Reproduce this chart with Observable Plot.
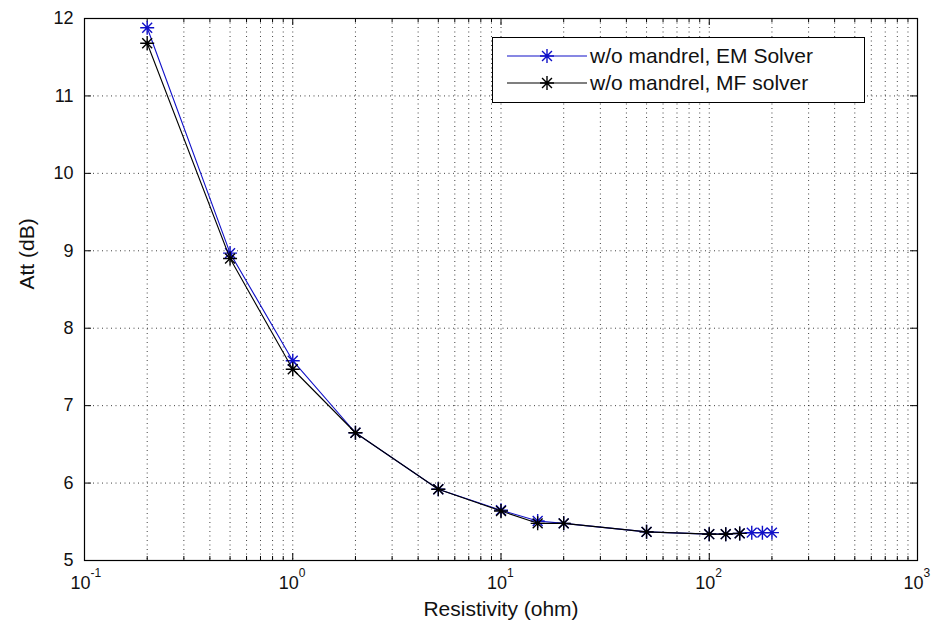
<!DOCTYPE html>
<html>
<head>
<meta charset="utf-8">
<script src="https://cdn.jsdelivr.net/npm/d3@7"></script>
<script src="https://cdn.jsdelivr.net/npm/@observablehq/plot@0.6"></script>
<style>
  body { margin: 0; background: #fff; }
  #wrap { position: relative; width: 938px; height: 634px; font-family: "Liberation Sans", Arial, sans-serif; }
  #legend { position: absolute; left: 492px; top: 37px; width: 373px; height: 66px; border: 1px solid #000; background: #fff; box-sizing: border-box; }
  .row { position: absolute; left: 0; height: 26px; display: flex; align-items: center; font-size: 21px; color: #111; white-space: nowrap; }
  .row svg { margin-left: 14px; margin-right: 3px; }
</style>
</head>
<body>
<div id="wrap"></div>
<script>
// ---- data ----
const emX = [0.2, 0.5, 1, 2, 5, 10, 15, 20, 50, 100, 120, 140, 160, 180, 200];
const emY = [11.88, 8.97, 7.58, 6.65, 5.92, 5.65, 5.51, 5.48, 5.37, 5.34, 5.34, 5.35, 5.36, 5.36, 5.36];
const mfX = [0.2, 0.5, 1, 2, 5, 10, 15, 20, 50, 100, 120, 140];
const mfY = [11.68, 8.90, 7.47, 6.65, 5.92, 5.64, 5.48, 5.48, 5.37, 5.34, 5.34, 5.35];
const seriesNames = ["w/o mandrel, EM Solver", "w/o mandrel, MF solver"];
const seriesColors = ["#1010c8", "#000000"];
const xMajor = [0.1, 1, 10, 100, 1000];
const xExp = ["-1", "0", "1", "2", "3"];
const yTicks = [5, 6, 7, 8, 9, 10, 11, 12];
const xLabel = "Resistivity (ohm)";
const yLabel = "Att (dB)";

const xMinor = [];
for (let e = -1; e < 3; e++) for (let m = 2; m <= 9; m++) xMinor.push(m * Math.pow(10, e));

const em = emX.map((x, i) => ({x, y: emY[i]}));
const mf = mfX.map((x, i) => ({x, y: mfY[i]}));

const asterisk = {
  draw(ctx, size) {
    const r = Math.sqrt(size / Math.PI);
    const d = r * 0.7071;
    ctx.moveTo(-r, 0); ctx.lineTo(r, 0);
    ctx.moveTo(0, -r); ctx.lineTo(0, r);
    ctx.moveTo(-d, -d); ctx.lineTo(d, d);
    ctx.moveTo(-d, d); ctx.lineTo(d, -d);
  }
};

const W = 938, H = 634, mL = 84, mR = 21, mT = 18, mB = 74;
const pw = W - mL - mR, ph = H - mT - mB;
const grid = {stroke: "#000", strokeOpacity: 0.75, strokeDasharray: "1,3.5", strokeWidth: 1};

const chart = Plot.plot({
  width: W, height: H,
  marginLeft: mL, marginRight: mR, marginTop: mT, marginBottom: mB,
  style: {fontFamily: "'Liberation Sans', Arial, sans-serif", background: "#fff"},
  x: {type: "log", domain: [0.1, 1000]},
  y: {domain: [5, 12]},
  marks: [
    Plot.ruleX(xMajor.concat(xMinor).filter(d => d > 0.1 && d < 1000), grid),
    Plot.ruleY(yTicks.filter(d => d > 5 && d < 12), grid),
    // inward ticks
    Plot.tickX(xMajor, {x: d => d, insetTop: ph - 7, stroke: "#000"}),
    Plot.tickX(xMajor, {x: d => d, insetBottom: ph - 7, stroke: "#000"}),
    Plot.tickX(xMinor, {x: d => d, insetTop: ph - 4, stroke: "#000"}),
    Plot.tickX(xMinor, {x: d => d, insetBottom: ph - 4, stroke: "#000"}),
    Plot.tickY(yTicks, {y: d => d, insetRight: pw - 7, stroke: "#000"}),
    Plot.tickY(yTicks, {y: d => d, insetLeft: pw - 7, stroke: "#000"}),
    Plot.frame({stroke: "#000", strokeWidth: 1.2}),
    // data
    Plot.line(em, {x: "x", y: "y", stroke: seriesColors[0], strokeWidth: 1.1}),
    Plot.dot(em, {x: "x", y: "y", symbol: asterisk, r: 7, stroke: seriesColors[0], fill: "none", strokeWidth: 1.4}),
    Plot.line(mf, {x: "x", y: "y", stroke: seriesColors[1], strokeWidth: 1.1}),
    Plot.dot(mf, {x: "x", y: "y", symbol: asterisk, r: 7, stroke: seriesColors[1], fill: "none", strokeWidth: 1.4}),
    // axes
    Plot.axisY(yTicks, {tickSize: 0, tickPadding: 11, fontSize: 18, fill: "#111", tickFormat: d => String(d), label: null}),
    Plot.axisX(xMajor, {tickSize: 0, tickFormat: () => "", label: null}),
    Plot.text(xMajor, {x: d => d, frameAnchor: "bottom", text: () => "10", dy: 28, dx: -4, fontSize: 18, fill: "#111"}),
    Plot.text(xMajor, {x: d => d, frameAnchor: "bottom", text: (d, i) => xExp[i], dy: 16, dx: 6, fontSize: 12, textAnchor: "start", fill: "#111"}),
    Plot.text([xLabel], {x: [10], frameAnchor: "bottom", text: d => d, dy: 55, fontSize: 21, fill: "#111"}),
    Plot.text([yLabel], {y: [8.5], frameAnchor: "left", text: d => d, dx: -57, rotate: -90, fontSize: 21, fill: "#111"})
  ]
});

document.getElementById("wrap").appendChild(chart);

// legend
const leg = document.createElement("div");
leg.id = "legend";
seriesNames.forEach((name, i) => {
  const row = document.createElement("div");
  row.className = "row";
  row.style.top = (i === 0 ? 5 : 32) + "px";
  const s = d3.create("svg").attr("width", 80).attr("height", 20);
  s.append("line").attr("x1", 0).attr("x2", 80).attr("y1", 10).attr("y2", 10).attr("stroke", seriesColors[i]).attr("stroke-width", 1.1);
  const p = d3.path(); asterisk.draw(p, Math.PI * 49);
  s.append("path").attr("d", p.toString()).attr("transform", "translate(40,10)").attr("stroke", seriesColors[i]).attr("fill", "none").attr("stroke-width", 1.4);
  row.appendChild(s.node());
  const t = document.createElement("span"); t.textContent = name;
  row.appendChild(t);
  leg.appendChild(row);
});
document.getElementById("wrap").appendChild(leg);
</script>
</body>
</html>
